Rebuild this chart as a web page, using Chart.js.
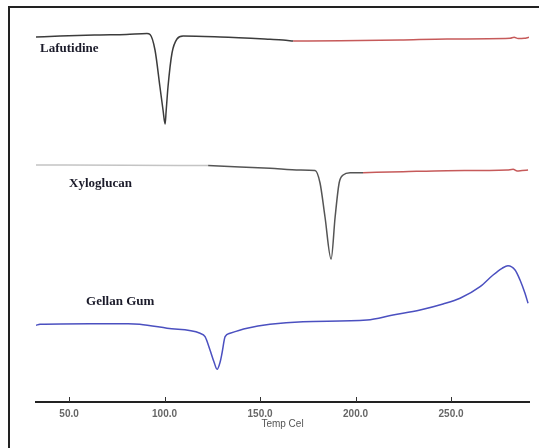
<!DOCTYPE html>
<html>
<head>
<meta charset="utf-8">
<script src="https://cdn.jsdelivr.net/npm/chart.js@4.4.0/dist/chart.umd.min.js"></script>
<style>
  html, body { margin: 0; padding: 0; background: #fff; }
  #wrap { position: relative; width: 539px; height: 448px; }
</style>
</head>
<body>
<div id="wrap"><canvas id="dsc"></canvas></div>
<script>
// temperature (Cel) / signal (arbitrary units)
const lafuBlackT = [32.7, 45.3, 66.2, 80, 90.8, 92.4, 95.0, 97.6, 99.2, 100.3, 100.8, 101.8, 103.9, 106.5, 109.7, 129.1, 155.2, 162, 167.3];
const lafuBlackY = [365, 366, 367, 367.5, 368.5, 367.5, 352, 315, 292, 278, 290, 315, 349, 363, 366, 365, 362.7, 362, 361];
const lafuRedT = [167.3, 191.9, 223.3, 247.9, 280.9, 283, 285.1, 288.2, 290.8];
const lafuRedY = [361, 361.3, 362, 363, 363.7, 364.7, 363.5, 363.7, 364.7];

const xyloLightT = [32.7, 80, 122.8];
const xyloLightY = [237, 236.8, 236.5];
const xyloDarkT = [122.8, 139.5, 155.2, 170.9, 178.8, 181.4, 184.0, 187.2, 189.3, 191.4, 193.5, 197.1, 203.9];
const xyloDarkY = [236.5, 235, 233.7, 232, 231.5, 219, 185, 143, 185, 219, 227, 229.3, 229.3];
const xyloRedT = [203.9, 224.9, 247.9, 279.3, 282.5, 284.6, 287.2, 290.3];
const xyloRedY = [229.3, 230.3, 231.3, 232, 232.7, 231, 231.5, 232];

const gellanT = [32.7, 34.8, 61.0, 80.9, 87.0, 101.3, 118.6, 121.2, 123.8, 125.9, 127.5, 129.1, 130.1, 131.7, 134.3, 143.2, 155.2, 172.5, 206.0, 219.6, 233.8, 245.8, 254.7, 265.2, 272.0, 276.7, 279.8, 283.5, 286.1, 288.7, 290.3];
const gellanY = [76.7, 77.7, 78.3, 78.3, 77.8, 73.7, 68.7, 65.3, 52, 40, 32.7, 40, 49, 65.3, 68.7, 73.7, 77.7, 80.3, 82, 87, 92, 98, 103.7, 115.3, 127, 133.7, 136.3, 132, 122, 108.7, 98.7];

const tickValues = [50, 100, 150, 200, 250];
const sampleNames = ['Lafutidine', 'Xyloglucan', 'Gellan Gum'];
const nameAnchorT = [34.8, 50, 58.9];
const nameAnchorY = [353, 218, 100];

const toPts = (xs, ys) => xs.map((x, i) => ({ x: x, y: ys[i] }));

const line = (xs, ys, color) => ({
    data: toPts(xs, ys),
    borderColor: color,
    borderWidth: 1.5,
    pointRadius: 0,
    cubicInterpolationMode: 'monotone',
    fill: false
});

const framePlugin = {
    id: 'frame',
    afterDraw(chart) {
        const ctx = chart.ctx;
        const xs = chart.scales.x, ys = chart.scales.y;
        ctx.save();
        // page frame
        ctx.strokeStyle = '#222';
        ctx.lineWidth = 2;
        ctx.beginPath();
        ctx.moveTo(9, 448);
        ctx.lineTo(9, 7);
        ctx.lineTo(539, 7);
        ctx.stroke();
        // inward tick marks
        ctx.lineWidth = 1;
        ctx.strokeStyle = '#333';
        const b = chart.chartArea.bottom;
        tickValues.forEach(v => {
            const px = Math.round(xs.getPixelForValue(v)) + 0.5;
            ctx.beginPath();
            ctx.moveTo(px, b - 5);
            ctx.lineTo(px, b);
            ctx.stroke();
        });
        // sample names
        ctx.font = 'bold 13px "Liberation Serif"';
        ctx.fillStyle = '#1b1b2a';
        ctx.textBaseline = 'middle';
        sampleNames.forEach((n, i) => {
            ctx.fillText(n, xs.getPixelForValue(nameAnchorT[i]), ys.getPixelForValue(nameAnchorY[i]));
        });
        ctx.restore();
    }
};

new Chart(document.getElementById('dsc'), {
    type: 'line',
    data: {
        datasets: [
            line(lafuBlackT, lafuBlackY, '#3c3c3c'),
            line(lafuRedT, lafuRedY, '#c65a5a'),
            line(xyloLightT, xyloLightY, '#c4c4c4'),
            line(xyloDarkT, xyloDarkY, '#555555'),
            line(xyloRedT, xyloRedY, '#c65a5a'),
            line(gellanT, gellanY, '#4b50c0')
        ]
    },
    options: {
        responsive: true,
        maintainAspectRatio: false,
        animation: false,
        layout: { padding: { top: 8, left: 36, right: 10, bottom: 18 } },
        plugins: {
            legend: { display: false },
            tooltip: { enabled: false }
        },
        scales: {
            x: {
                type: 'linear',
                min: 32.7,
                max: 290.8,
                afterBuildTicks: (axis) => { axis.ticks = tickValues.map(v => ({ value: v })); },
                grid: { display: false, drawTicks: false },
                border: { display: true, color: '#222', width: 2 },
                ticks: {
                    color: '#666',
                    padding: 6,
                    font: { family: 'Liberation Sans', size: 10, weight: 'bold' },
                    callback: (v) => v.toFixed(1)
                },
                title: {
                    display: true,
                    text: 'Temp Cel',
                    color: '#555',
                    padding: { top: -8, bottom: 0 },
                    font: { family: 'Liberation Sans', size: 10 }
                }
            },
            y: {
                display: false,
                min: 0,
                max: 394
            }
        }
    },
    plugins: [framePlugin]
});
</script>
</body>
</html>
